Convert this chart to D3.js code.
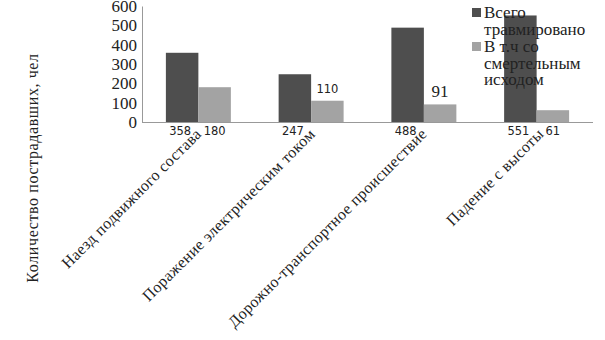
<!DOCTYPE html>
<html><head><meta charset="utf-8">
<script src="https://cdn.jsdelivr.net/npm/d3@7"></script>
<style>body{margin:0;background:#fff}svg{display:block}</style>
</head><body>
<script>
const categories = ["Наезд подвижного состава","Поражение электрическим током","Дорожно-транспортное происшествие","Падение с высоты"];
const seriesNames = ["Всего травмировано","В т.ч со смертельным исходом"];
const totalInjured = [358, 247, 488, 551];
const fatal = [180, 110, 91, 61];
const yTicks = [0,100,200,300,400,500,600];
const yTitle = "Количество пострадавших, чел";

const W=605,H=340;
const svg=d3.select("body").append("svg").attr("width",W).attr("height",H);
const x=d3.scaleBand().domain(categories).range([142,593]);
const xs=d3.scaleBand().domain([0,1]).range([0,x.bandwidth()]).paddingOuter(0.735).paddingInner(0);
const y=d3.scaleLinear().domain([0,600]).range([122,6]);
const colors=["#4e4e4e","#a3a3a3"];
const serif="'Liberation Serif','DejaVu Serif',serif";
const sans="'DejaVu Sans','Liberation Sans',sans-serif";

// y axis
const ya=svg.append("g").attr("transform","translate(142,0)").call(d3.axisLeft(y).tickValues(yTicks).tickSize(0).tickPadding(5));
ya.select(".domain").attr("stroke","#999");
ya.selectAll("text").attr("font-family",serif).attr("font-size",17).attr("fill","#222");

const series=[totalInjured,fatal];
series.forEach((vals,si)=>{
  svg.append("g").selectAll("rect").data(categories).join("rect")
    .attr("x",(c)=>x(c)+xs(si)).attr("width",xs.bandwidth())
    .attr("y",(c,i)=>y(vals[i])).attr("height",(c,i)=>y(0)-y(vals[i]))
    .attr("fill",colors[si]);
});
// baseline
svg.append("line").attr("x1",142).attr("x2",593).attr("y1",y(0)+0.5).attr("y2",y(0)+0.5).attr("stroke","#999");

// data labels
const lab=svg.append("g");
categories.forEach((c,i)=>{
  lab.append("text").attr("x",x(c)+xs(0)+xs.bandwidth()/2-2).attr("y",135)
    .attr("text-anchor","middle").attr("font-family",sans).attr("font-size",11.5).attr("fill","#222").text(totalInjured[i]);
  const cx=x(c)+xs(1)+xs.bandwidth()/2;
  if(i===1){
    lab.append("text").attr("x",cx).attr("y",y(fatal[i])-8).attr("text-anchor","middle")
      .attr("font-family",sans).attr("font-size",11.5).attr("fill","#222").text(fatal[i]);
  } else if(i===2){
    lab.append("text").attr("x",cx).attr("y",y(fatal[i])-7).attr("text-anchor","middle")
      .attr("font-family",serif).attr("font-size",17).attr("fill","#222").text(fatal[i]);
  } else {
    lab.append("text").attr("x",cx).attr("y",135).attr("text-anchor","middle")
      .attr("font-family",sans).attr("font-size",11.5).attr("fill","#222").text(fatal[i]);
  }
});

// category labels
const catOff=[4,5,4,8];
svg.append("g").selectAll("text").data(categories).join("text")
  .attr("transform",(c,i)=>`translate(${x(c)+x.bandwidth()/2+catOff[i]},135) rotate(-45)`)
  .attr("text-anchor","end").attr("font-family",serif).attr("font-size",16).attr("letter-spacing",0.35).attr("fill","#222")
  .text(d=>d);

// y title
svg.append("text").attr("transform","translate(38,168) rotate(-90)").attr("text-anchor","middle")
  .attr("font-family",serif).attr("font-size",16).attr("letter-spacing",0.6).attr("fill","#222").text(yTitle);

// legend
const legLines=[["Всего","травмировано"],["В т.ч со","смертельным","исходом"]];
const lg=svg.append("g").attr("font-family",serif).attr("font-size",17).attr("fill","#222");
let ly=18;
legLines.forEach((lines,si)=>{
  lg.append("rect").attr("x",472).attr("y",ly-10).attr("width",9).attr("height",9).attr("fill",colors[si]);
  lines.forEach((t,k)=>{
    lg.append("text").attr("x",484).attr("y",ly+k*16.5).text(t);
  });
  ly+=lines.length*16.5+1;
});
</script>
</body></html>
